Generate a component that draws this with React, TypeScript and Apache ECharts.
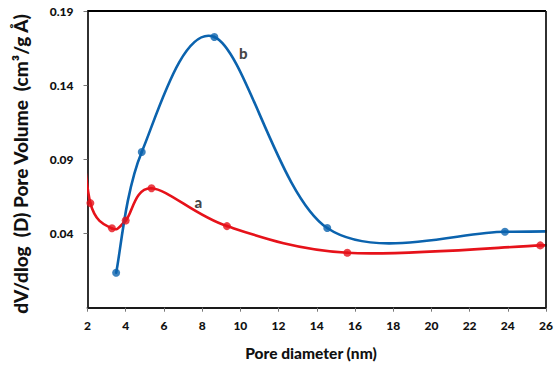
import React, { useEffect, useRef } from "react";
import * as echarts from "echarts";

// Data points (markers)
const aX = [2.15, 3.28, 4.0, 5.35, 9.3, 15.6, 25.7];
const aY = [0.0605, 0.0435, 0.0488, 0.0705, 0.045, 0.027, 0.032];
const bX = [3.5, 4.84, 8.64, 14.55, 23.85];
const bY = [0.0136, 0.095, 0.1725, 0.0437, 0.0412];
// Points lying outside the plotted range (the curves run off the axes there)
const aBefore: [number, number] = [1.6, 0.125];
const aAfter: [number, number] = [28.5, 0.0345];
const bAfter: [number, number] = [28.5, 0.0425];

const xTicks = { min: 2, max: 26, interval: 2 };
const yTicks = { min: -0.01, max: 0.19, interval: 0.05 };
const seriesLabels = [
  { text: "a", x: 7.8, y: 0.0614 },
  { text: "b", x: 10.16, y: 0.1617 },
];

const RED = "#e6121a";
const BLUE = "#0b63ae";
const FONT = "Lato";

const zip = (xs: number[], ys: number[]): [number, number][] => xs.map((x, i) => [x, ys[i]]);
const aCurve: [number, number][] = [aBefore, ...zip(aX, aY), aAfter];
const bCurve: [number, number][] = [...zip(bX, bY), bAfter];

// Excel-style smoothed line: cubic Bezier segments, control points at 1/6 of neighbour span
function smoothSeries(points: [number, number][], color: string, z: number) {
  return {
    type: "custom",
    clip: true,
    silent: true,
    z,
    data: points,
    encode: { x: 0, y: 1 },
    renderItem: (params: any, api: any) => {
      const i = params.dataIndex;
      const n = points.length;
      if (i >= n - 1) return null;
      const P = points.map((p) => api.coord(p));
      const p0 = P[Math.max(0, i - 1)];
      const p1 = P[i];
      const p2 = P[i + 1];
      const p3 = P[Math.min(n - 1, i + 2)];
      return {
        type: "bezierCurve",
        shape: {
          x1: p1[0], y1: p1[1],
          cpx1: p1[0] + (p2[0] - p0[0]) / 6, cpy1: p1[1] + (p2[1] - p0[1]) / 6,
          cpx2: p2[0] - (p3[0] - p1[0]) / 6, cpy2: p2[1] - (p3[1] - p1[1]) / 6,
          x2: p2[0], y2: p2[1],
        },
        style: { stroke: color, lineWidth: 2.6, fill: "none", lineCap: "round" },
      };
    },
  };
}

export default function App() {
  const ref = useRef<HTMLDivElement>(null);
  useEffect(() => {
    if (!ref.current) return;
    const chart = echarts.init(ref.current, undefined, { renderer: "svg" });
    const axisLineStyle = { color: "#1a1a1a", width: 1.8 };
    chart.setOption({
      animation: false,
      grid: { left: 87.5, top: 11, right: 11, bottom: 64.3 },
      xAxis: {
        type: "value", min: xTicks.min, max: xTicks.max, interval: xTicks.interval,
        splitLine: { show: false },
        axisLine: { onZero: false, lineStyle: axisLineStyle },
        axisTick: { show: true, length: 4, lineStyle: { color: "#777" } },
        axisLabel: { fontFamily: FONT, fontWeight: 900, fontSize: 12, color: "#111", margin: 12 },
      },
      yAxis: {
        type: "value", min: yTicks.min, max: yTicks.max, interval: yTicks.interval,
        splitLine: { show: false },
        axisLine: { show: true, onZero: false, lineStyle: axisLineStyle },
        axisTick: { show: true, length: 4, lineStyle: { color: "#777" } },
        axisLabel: {
          fontFamily: FONT, fontWeight: 900, fontSize: 12, color: "#111", margin: 14,
          showMinLabel: false,
          formatter: (v: number) => (v < 0 ? "" : v.toFixed(2)),
        },
      },
      series: [
        smoothSeries(aCurve, RED, 2),
        smoothSeries(bCurve, BLUE, 3),
        {
          type: "scatter", data: zip(aX, aY), symbol: "circle", symbolSize: 8,
          itemStyle: { color: RED }, z: 4,
        },
        {
          type: "scatter", data: zip(bX, bY), symbol: "circle", symbolSize: 8,
          itemStyle: { color: BLUE }, z: 5,
        },
        {
          type: "scatter", symbolSize: 0, silent: true,
          data: seriesLabels.map((l) => ({ value: [l.x, l.y], name: l.text })),
          label: {
            show: true, position: "inside", formatter: (p: any) => p.name,
            fontFamily: FONT, fontWeight: 900, fontSize: 15, color: "#111",
          },
        },
      ],
    });
    // Frame (top and right edges) placed via the axes' own scales
    const tl = chart.convertToPixel({ gridIndex: 0 }, [xTicks.min, yTicks.max]) as number[];
    const br = chart.convertToPixel({ gridIndex: 0 }, [xTicks.max, yTicks.min]) as number[];
    chart.setOption({
      graphic: [
        {
          type: "line", z: 10,
          shape: { x1: tl[0], y1: tl[1], x2: br[0], y2: tl[1] },
          style: { stroke: "#000", lineWidth: 2 },
        },
        {
          type: "line", z: 10,
          shape: { x1: br[0], y1: tl[1], x2: br[0], y2: br[1] },
          style: { stroke: "#1a1a1a", lineWidth: 1.8 },
        },
        {
          type: "text", x: 311, y: 353,
          style: {
            text: "Pore diameter (nm)", font: `900 15.5px ${FONT}`, fill: "#111",
            align: "center", verticalAlign: "middle",
          },
        },
        {
          type: "text", x: 20, y: 164, rotation: Math.PI / 2,
          style: {
            text: "dV/dlog  (D) Pore Volume  (cm³/g Å)", font: `900 19px ${FONT}`, fill: "#111",
            align: "center", verticalAlign: "middle",
          },
        },
      ],
    });
    return () => chart.dispose();
  }, []);
  return <div ref={ref} style={{ width: 557, height: 372, position: "absolute", left: 0, top: 0 }} />;
}
